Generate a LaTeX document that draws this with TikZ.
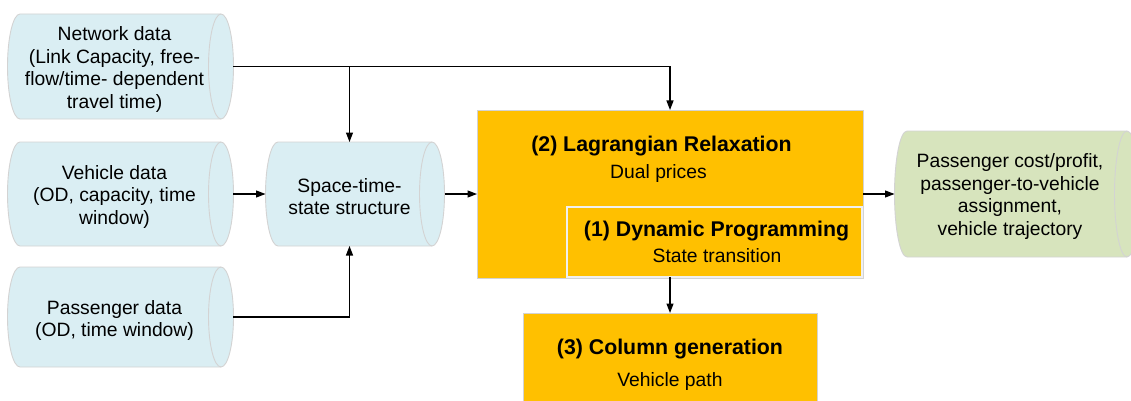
\documentclass[tikz,border=0pt]{standalone}
\usepackage{fontspec}
\setmainfont{Liberation Sans}
\usetikzlibrary{arrows.meta}
\definecolor{cylfill}{HTML}{DAEEF3}
\definecolor{outfill}{HTML}{D7E4BD}
\definecolor{edgegray}{HTML}{D3D3D3}
\definecolor{boxorange}{HTML}{FFC000}
\definecolor{innerline}{HTML}{F0F0F0}
\tikzset{
  cylstyle/.style={draw=edgegray, line width=0.9pt},
  area/.style={draw=none, inner sep=0pt, outer sep=0pt},
  txt/.style={align=center, inner sep=0pt},
  boxtwo/.style={fill=boxorange, draw=edgegray, line width=0.9pt, inner sep=0pt, outer sep=0pt},
  boxone/.style={fill=boxorange, draw=innerline, line width=2.5pt, inner sep=0pt, outer sep=0pt},
  ttl/.style={inner sep=0pt, anchor=base, font=\fontsize{21.3}{25}\selectfont\bfseries},
  sub/.style={inner sep=0pt, anchor=base},
  arr/.style={draw=black, line width=1.2pt, -{Triangle[length=9.5pt,width=7pt]}},
}
\newcommand\hcyl[5]{%
  \pgfmathsetmacro\cylr{(#4-#2)/2}%
  \draw[cylstyle, fill=#5] (#1,#2) -- (#3,#2)
     arc[start angle=90,end angle=-90,x radius=12.5pt,y radius=\cylr pt]
     -- (#1,#4)
     arc[start angle=270,end angle=90,x radius=12.5pt,y radius=\cylr pt] -- cycle;
  \draw[cylstyle] (#3,#2) arc[start angle=90,end angle=270,x radius=12.5pt,y radius=\cylr pt];
}
\begin{document}
\begin{tikzpicture}[x=1pt,y=-1pt,font=\fontsize{19.3}{22.8}\selectfont]
\useasboundingbox (0,0) rectangle (1131,401);
% cylinders
\hcyl{20}{14}{221}{119}{cylfill}
\hcyl{20}{142}{221}{246}{cylfill}
\hcyl{20}{267}{221}{367}{cylfill}
\hcyl{278}{142}{432}{246}{cylfill}
\hcyl{907}{131}{1127}{257}{outfill}
% shape areas (for connectors)
\node[area, minimum width=226pt, minimum height=105pt] (net) at (120,66.5) {};
\node[area, minimum width=226pt, minimum height=104pt] (veh) at (120,194) {};
\node[area, minimum width=226pt, minimum height=100pt] (pas) at (120,317) {};
\node[area, minimum width=179pt, minimum height=104pt] (st) at (355,194) {};
\node[area, minimum width=245pt, minimum height=126pt] (out) at (1017,194) {};
% texts
\node[txt] (net-t) at (114.5,69.5) {Network data\\(Link Capacity, free-\\flow/time- dependent\\travel time)};
\node[txt] (veh-t) at (114.5,197) {Vehicle data\\(OD, capacity, time\\window)};
\node[txt] (pas-t) at (114.5,320.5) {Passenger data\\(OD, time window)};
\node[txt] (st-t) at (349.5,196.5) {Space-time-\\state structure};
\node[txt] (out-t) at (1010,196.5) {Passenger cost/profit,\\passenger-to-vehicle\\assignment,\\vehicle trajectory};
% orange boxes
\node[boxtwo, minimum width=386pt, minimum height=168pt] (lr) at (670,194) {};
\node[boxone, minimum width=295pt, minimum height=70pt] (dp) at (714.5,242) {};
\node[boxtwo, minimum width=294pt, minimum height=96pt] (cg) at (670,361) {};
\node[ttl] (lr-t) at (661.5,151) {(2) Lagrangian Relaxation};
\node[sub] (lr-s) at (658.5,178) {Dual prices};
\node[ttl] (dp-t) at (716.5,236) {(1) Dynamic Programming};
\node[sub] (dp-s) at (717,262) {State transition};
\node[ttl] (cg-t) at (670,354) {(3) Column generation};
\node[sub] (cg-s) at (670,386) {Vehicle path};
% connectors
\draw[arr] (net.east) -| (lr.north);
\draw[arr] (st-t |- net.east) -- (st-t |- st.north);
\draw[arr] (veh.east) -- (st.west);
\draw[arr] (pas.east) -| (st-t |- st.south);
\draw[arr] (st.east) -- (lr.west);
\draw[arr] (lr.east) -- (out.west);
\draw[arr] (cg.north |- dp.south) -- (cg.north);
\end{tikzpicture}
\end{document}
